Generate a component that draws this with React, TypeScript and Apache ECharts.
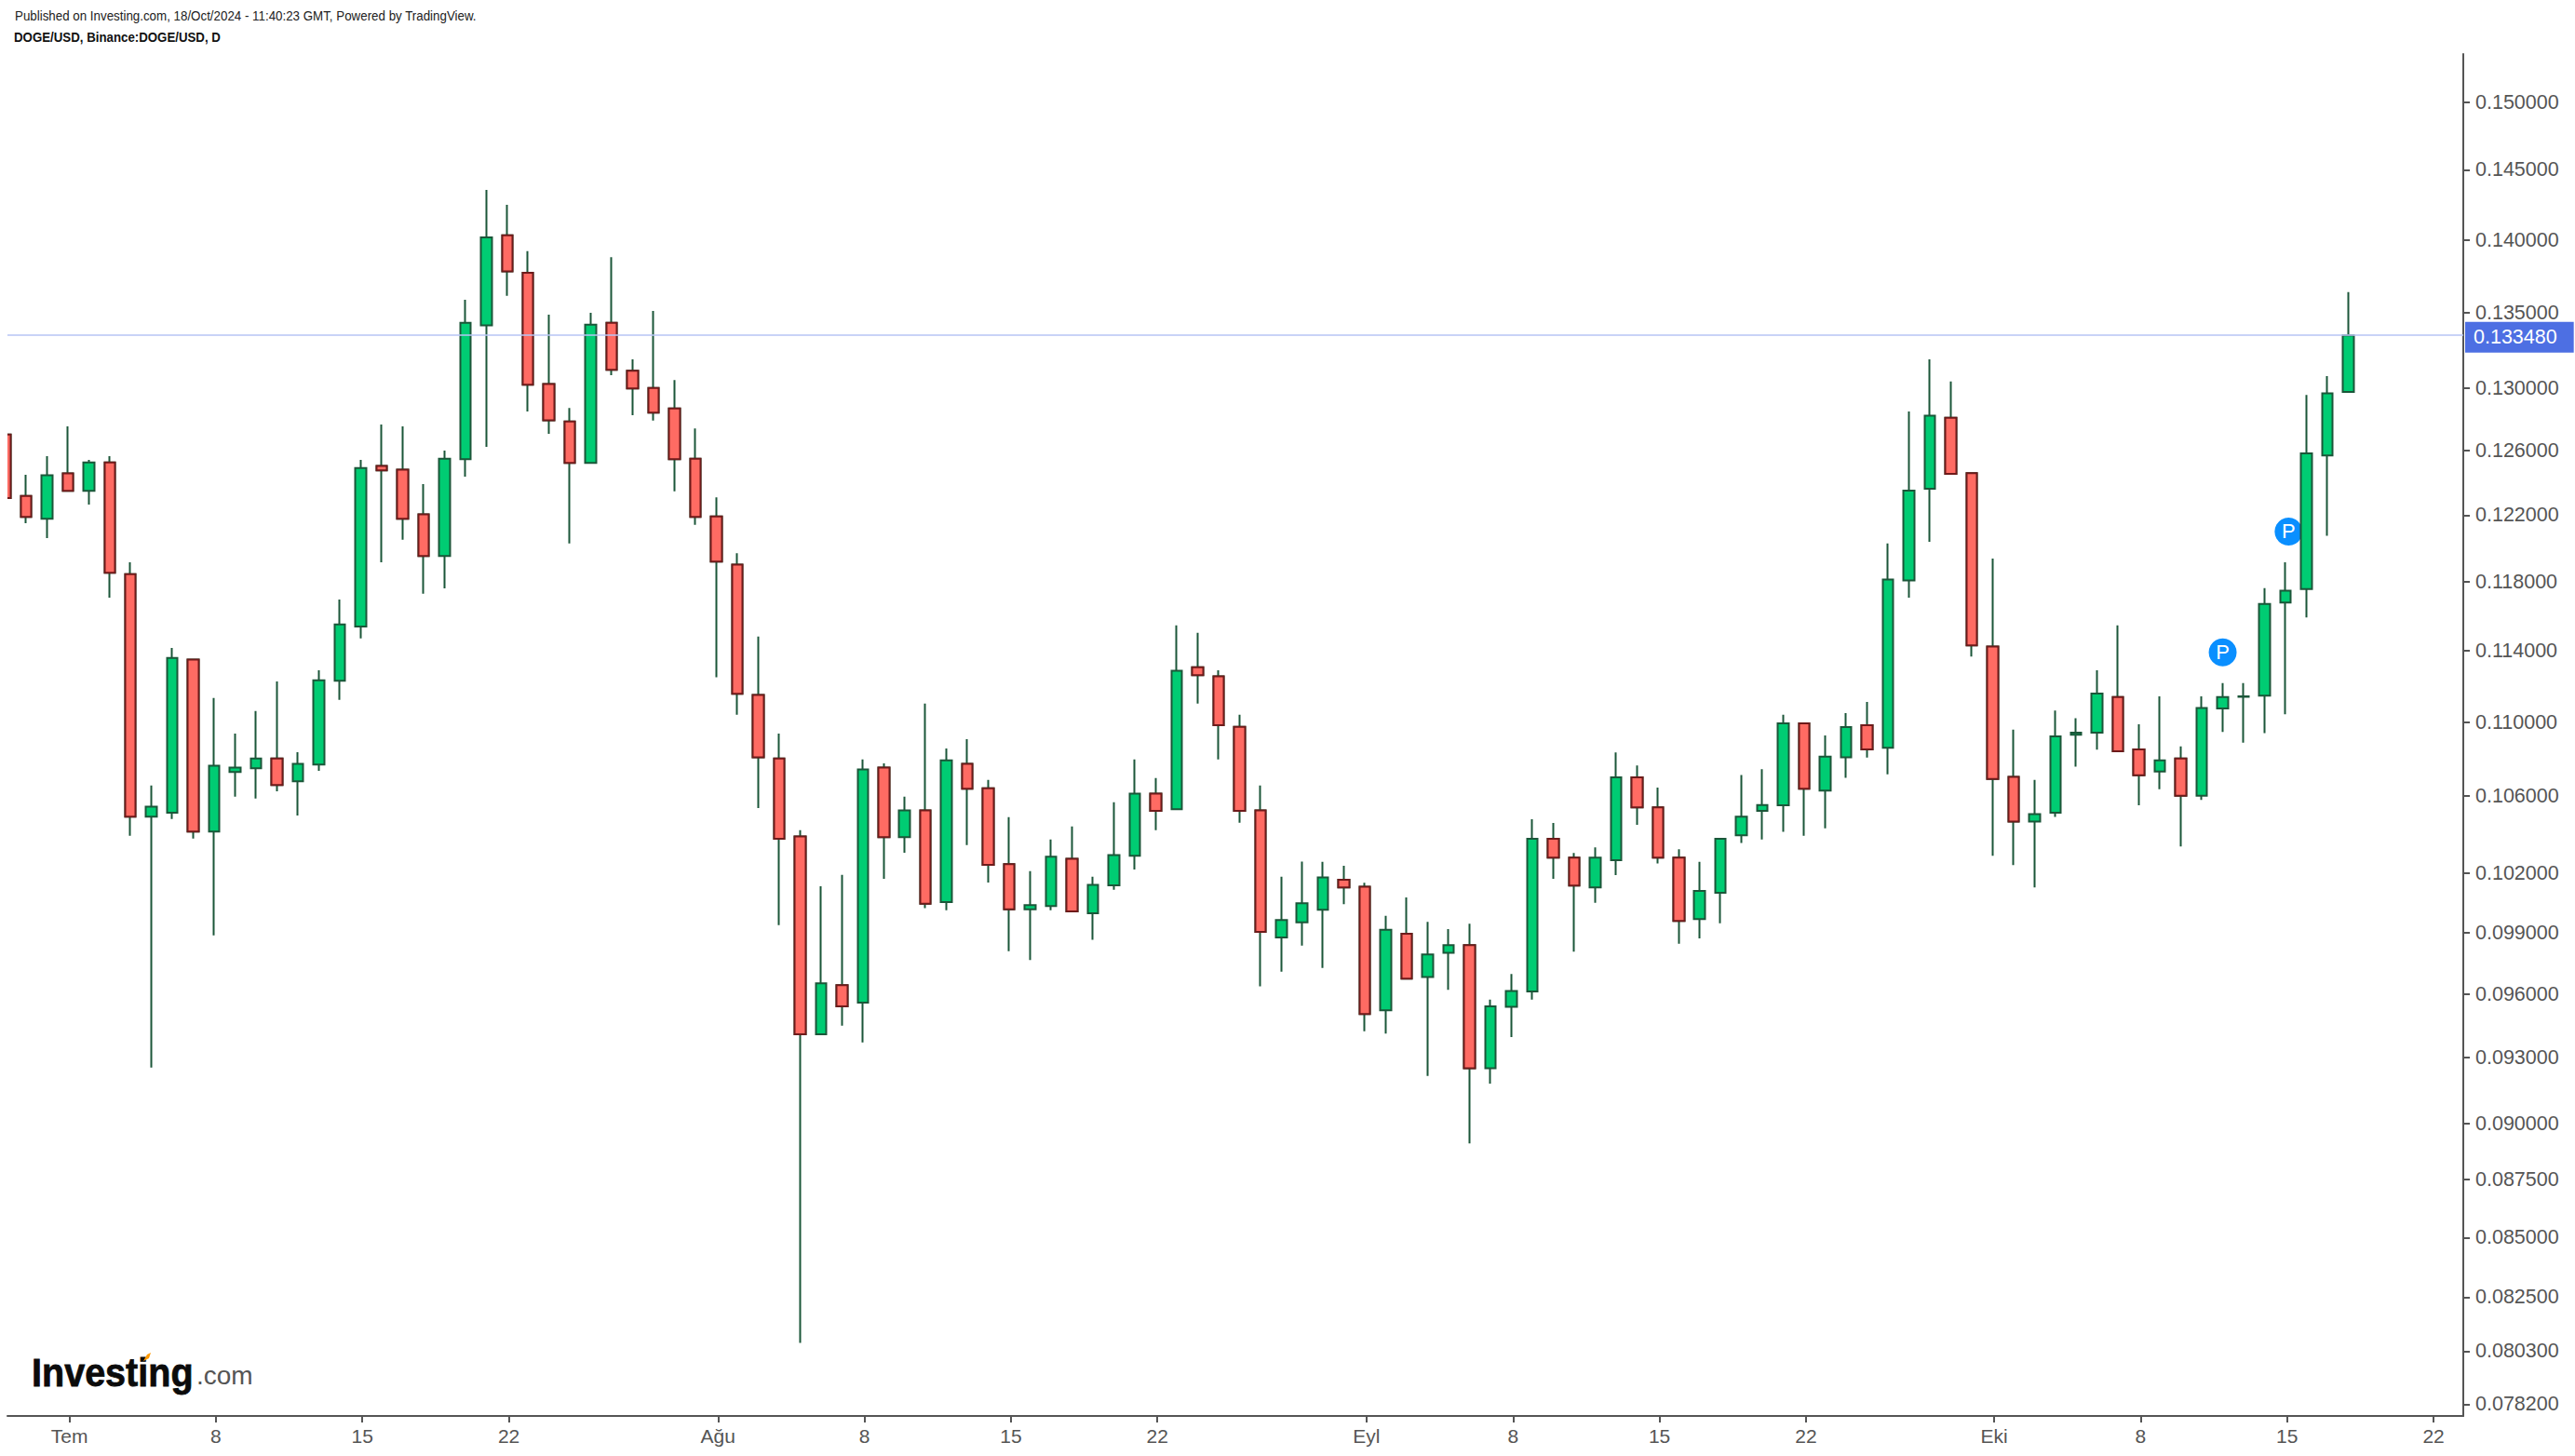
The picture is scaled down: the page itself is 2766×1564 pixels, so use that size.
import React, { useEffect, useRef } from "react";
import * as echarts from "echarts";

const opens = [
  .12702,.12318,.12178,.12457,.12349,.12526,.11845,.10492,.10512,.11349,
  .10414,.10729,.10749,.10802,.10679,.10769,.1123,.11538,.12503,.1248,
  .12204,.11953,.12546,.13415,.14033,.13773,.13026,.12785,.12523,.13432,
  .13113,.13001,.12868,.12549,.12192,.11901,.1115,.10802,.10388,.09409,
  .09644,.0956,.10752,.10385,.10525,.10053,.10772,.10642,.10245,.10016,
  .10033,.10273,.09997,.10137,.10288,.10613,.10531,.11306,.11254,.10974,
  .10525,.09876,.09952,.10014,.10166,.1013,.09523,.09895,.09683,.09801,
  .09839,.09251,.0954,.09613,.10376,.10279,.10127,.10266,.107,.10541,
  .10279,.09968,.101,.10394,.10522,.10551,.10993,.10629,.10808,.10983,
  .1086,.11808,.12362,.12809,.12458,.11424,.10703,.10466,.10512,.1093,
  .10942,.11138,.10851,.10731,.10802,.10602,.11075,.1114,.11147,.11678,
  .11757,.12569,.12975,
];
const closes = [
  .12305,.12189,.12445,.12349,.12526,.11853,.10492,.10544,.11359,.10414,
  .10762,.10752,.10802,.10659,.10772,.11233,.11551,.12491,.12476,.12178,
  .11953,.12549,.13432,.14018,.13782,.13022,.12793,.12523,.13419,.13119,
  .12998,.12841,.12546,.12189,.1192,.11157,.10808,.10376,.09409,.09653,
  .09542,.10742,.10385,.10525,.10044,.10792,.10639,.10242,.10016,.10037,
  .10283,.10006,.1014,.10292,.10613,.10522,.11286,.11261,.10983,.10522,
  .09904,.09963,.10047,.10177,.10127,.09505,.09914,.09675,.09793,.09839,
  .09251,.09542,.09616,.10376,.10279,.10136,.10279,.107,.10541,.10279,
  .09958,.10109,.10376,.10492,.10553,.10993,.10639,.10811,.10973,.1085,
  .11813,.1235,.12822,.12455,.1143,.10691,.10466,.10505,.10921,.10942,
  .11158,.1084,.10711,.10791,.10602,.11078,.11138,.11142,.1167,.11747,
  .12582,.12966,.13348,
];
const lows = [
  .12305,.12151,.12061,.12349,.12265,.11706,.10392,.09254,.10479,.10377,
  .09887,.10597,.10587,.10626,.10498,.10735,.11123,.1147,.11916,.1205,
  .11729,.11761,.12437,.12623,.13614,.12849,.12706,.12028,.12523,.13085,
  .12825,.12791,.12346,.12141,.11249,.1104,.10537,.09938,.08063,.09409,
  .0945,.09371,.10171,.10304,.10022,.10012,.10344,.10152,.09809,.09765,
  .10012,.10006,.09865,.10115,.10218,.10421,.10531,.11102,.10796,.1046,
  .09638,.09709,.09836,.09727,.10042,.09424,.09413,.09675,.09215,.09621,
  .08909,.0918,.09396,.09574,.1017,.09807,.10049,.10189,.10449,.10249,
  .09845,.09872,.09947,.10354,.10372,.10412,.10392,.10431,.10697,.10807,
  .10716,.11706,.12038,.12455,.11366,.10288,.10241,.10127,.1049,.10757,
  .10849,.1084,.10551,.10637,.10336,.1058,.10946,.10887,.1094,.11043,
  .11591,.12075,.12975,
];
const highs = [
  .12702,.12449,.12565,.12753,.12542,.12565,.11916,.10656,.11416,.11349,
  .11133,.10937,.11061,.11226,.10836,.11289,.11696,.12542,.12765,.12753,
  .12391,.126,.13587,.14355,.14248,.13922,.13486,.12872,.13499,.1388,
  .13188,.13512,.13052,.12741,.12308,.1197,.11481,.10937,.10421,.10133,
  .10191,.10796,.10775,.10597,.11102,.10856,.10906,.10686,.10489,.1021,
  .10372,.10441,.10181,.10567,.10796,.10696,.11545,.11502,.11289,.1104,
  .10656,.10181,.10258,.10257,.10237,.1015,.09984,.10076,.09954,.09918,
  .09945,.09574,.09697,.10478,.10459,.10303,.10331,.10834,.10764,.10645,
  .10322,.10257,.10376,.10713,.10744,.1104,.10993,.10927,.1105,.11112,
  .12028,.12849,.13188,.13043,.12458,.11938,.10958,.10686,.11063,.11021,
  .11289,.11545,.10988,.11142,.10867,.11142,.11217,.11217,.11762,.11916,
  .12956,.13079,.13639,
];
const priceTicks = [
  .0782,.0803,.0825,.085,.0875,.09,.093,.096,.099,.102,.106,
  .11,.114,.118,.122,.126,.13,.135,.14,.145,.15,
];
const dateTicks = [3, 10, 17, 24, 34, 41, 48, 55, 65, 72, 79, 86, 95, 102, 109, 116];
const dateLabels = ["Tem","8","15","22","Ağu","8","15","22","Eyl","8","15","22","Eki","8","15","22"];
const lastPrice = 0.13348;
const pMarkers = [[106.0, 0.1139], [109.15, 0.121]];

const TICK_SHIFT = 0.08;
const WICK = "#1b5639";

export default function App() {
  const ref = useRef<HTMLDivElement>(null);
  useEffect(() => {
    const chart = echarts.init(ref.current!, undefined, { renderer: "svg" });
    const all = opens.map((o, i) => [i, o, closes[i], lows[i], highs[i]]);
    const redBodies = opens
      .map((o, i) => [i, o, closes[i], closes[i], o])
      .filter((d) => d[2] < d[1]);
    const tickPos = dateTicks.map((d) => d + TICK_SHIFT);
    const font = "'Liberation Sans', Arial, sans-serif";
    chart.setOption({
      animation: false,
      backgroundColor: "#ffffff",
      grid: { left: 8, right: 120, top: 58, bottom: 43, containLabel: false },
      xAxis: {
        type: "value",
        min: 0.1157,
        max: 117.5,
        splitLine: { show: false },
        axisLine: { show: true, onZero: false, lineStyle: { color: "#555555", width: 2 } },
        axisTick: { show: true, length: 7, customValues: tickPos, lineStyle: { color: "#555555", width: 2 } },
        axisLabel: {
          customValues: tickPos,
          color: "#555555",
          fontSize: 21,
          fontFamily: font,
          margin: 11,
          hideOverlap: false,
          formatter: (v: number) => dateLabels[dateTicks.indexOf(Math.round(v))] ?? "",
        },
      },
      yAxis: {
        type: "log",
        position: "right",
        min: 0.07774,
        max: 0.15365,
        splitLine: { show: false },
        axisLine: { show: true, onZero: false, lineStyle: { color: "#555555", width: 2 } },
        axisTick: { show: true, length: 7, customValues: priceTicks, lineStyle: { color: "#555555", width: 2 } },
        axisLabel: {
          customValues: priceTicks,
          color: "#555555",
          fontSize: 21.5,
          fontFamily: font,
          margin: 13,
          padding: [3, 0, 0, 0],
          hideOverlap: false,
          formatter: (v: number) => v.toFixed(6),
        },
      },
      series: [
        {
          name: "Markers",
          type: "scatter",
          z: 1,
          symbol: "circle",
          symbolSize: 30,
          itemStyle: { color: "#0a8fff", opacity: 1 },
          label: { show: true, position: "inside", formatter: "P", color: "#ffffff", fontSize: 22, fontFamily: font },
          data: pMarkers,
        },
        {
          name: "DOGE/USD",
          type: "candlestick",
          z: 2,
          barWidth: 12,
          itemStyle: {
            color: "#00cc73",
            color0: "#ff6b63",
            borderColor: WICK,
            borderColor0: WICK,
            borderColorDoji: WICK,
            borderWidth: 2,
          },
          markLine: {
            silent: true,
            symbol: "none",
            animation: false,
            precision: 6,
            lineStyle: { color: "#b7c5f5", width: 1.6, type: "solid" },
            label: {
              show: true,
              position: "end",
              distance: 2,
              offset: [0, 2],
              formatter: () => lastPrice.toFixed(6),
              color: "#ffffff",
              fontSize: 21.5,
              fontFamily: font,
              backgroundColor: "#4d6fe3",
              padding: [6, 18, 5, 9],
            },
            data: [{ yAxis: lastPrice }],
          },
          data: all,
        },
        {
          name: "DOGE/USD bodies",
          type: "candlestick",
          z: 3,
          barWidth: 12,
          itemStyle: {
            color: "#ff6b63",
            color0: "#ff6b63",
            borderColor: "#6e1a1a",
            borderColor0: "#6e1a1a",
            borderColorDoji: "#6e1a1a",
            borderWidth: 2,
          },
          data: redBodies,
        },
      ],
      graphic: [
        { type: "rect", z: 50, shape: { x: 0, y: 58, width: 8, height: 1462 }, style: { fill: "#ffffff" } },
        { type: "text", z: 60, x: 16, y: 9, scaleX: 0.89, style: { text: "Published on Investing.com, 18/Oct/2024 - 11:40:23 GMT, Powered by TradingView.", font: "15px 'Liberation Sans'", fill: "#222222" } },
        { type: "text", z: 60, x: 15, y: 32, scaleX: 0.885, style: { text: "DOGE/USD, Binance:DOGE/USD, D", font: "bold 15px 'Liberation Sans'", fill: "#111111" } },
        { type: "text", z: 60, x: 34, y: 1453, scaleX: 0.92, style: { text: "Investing", font: "bold 43px 'Liberation Sans'", fill: "#0b0b0b", stroke: "#0b0b0b", lineWidth: 0.8 } },
        { type: "text", z: 60, x: 211, y: 1463, style: { text: ".com", font: "28px 'Liberation Sans'", fill: "#555555" } },
        { type: "polygon", z: 60, shape: { points: [[154, 1462], [158, 1455], [162, 1453], [160, 1459]] }, style: { fill: "#ff9a00" } },
      ],
    });
    return () => chart.dispose();
  }, []);
  return (
    <div
      ref={ref}
      style={{ position: "absolute", left: 0, top: 0, width: 2766, height: 1564, background: "#fff" }}
    />
  );
}
